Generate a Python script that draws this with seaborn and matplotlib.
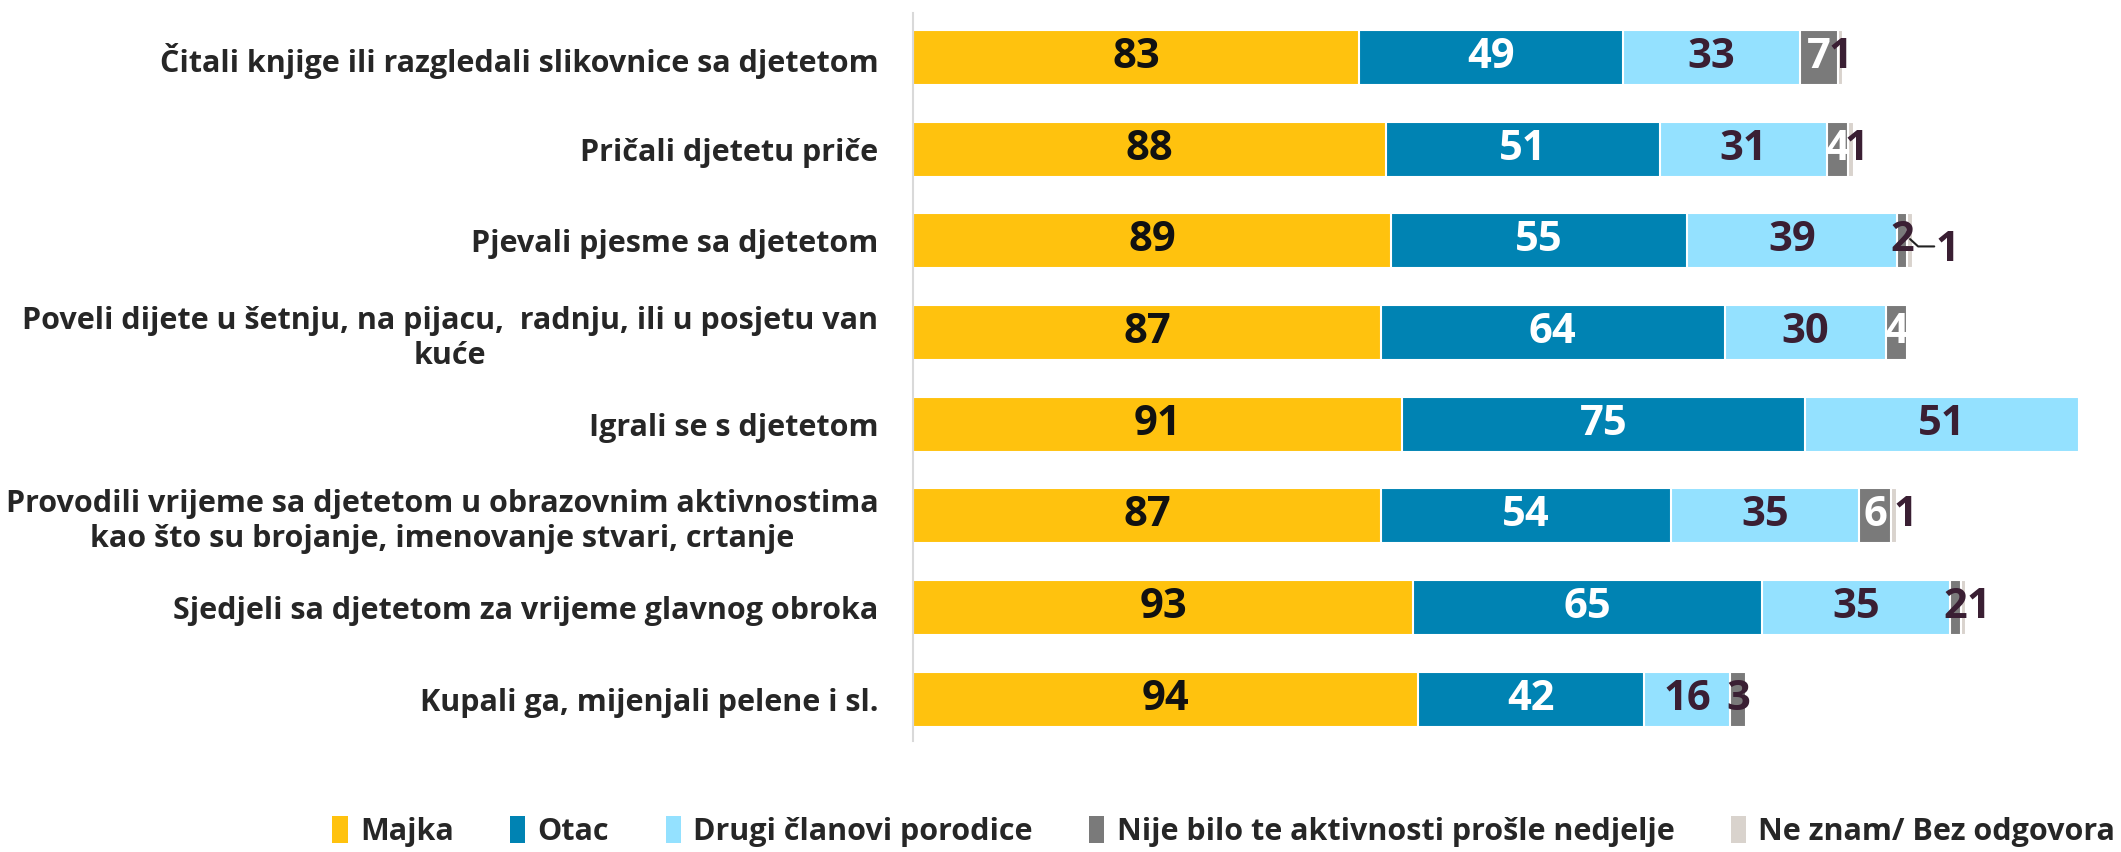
import numpy as np
import pandas as pd
import matplotlib
matplotlib.use("Agg")
import matplotlib.pyplot as plt
import seaborn as sns
from matplotlib.patches import Patch

activities = [
    "Čitali knjige ili razgledali slikovnice sa djetetom",
    "Pričali djetetu priče",
    "Pjevali pjesme sa djetetom",
    "Poveli dijete u šetnju, na pijacu,  radnju, ili u posjetu van\nkuće",
    "Igrali se s djetetom",
    "Provodili vrijeme sa djetetom u obrazovnim aktivnostima\nkao što su brojanje, imenovanje stvari, crtanje",
    "Sjedjeli sa djetetom za vrijeme glavnog obroka",
    "Kupali ga, mijenjali pelene i sl.",
]
series_names = ["Majka", "Otac", "Drugi članovi porodice",
                "Nije bilo te aktivnosti prošle nedjelje", "Ne znam/ Bez odgovora"]
majka = [83, 88, 89, 87, 91, 87, 93, 94]
otac = [49, 51, 55, 64, 75, 54, 65, 42]
drugi = [33, 31, 39, 30, 51, 35, 35, 16]
nije = [7, 4, 2, 4, 0, 6, 2, 3]
ne_znam = [1, 1, 1, 0, 0, 1, 1, 0]

colors = ["#FFC20E", "#0083B3", "#94E1FF", "#7A7A7A", "#D9D3CD"]
text_colors = ["#111111", "#FFFFFF", "#3A1F33", "#FFFFFF", "#3A1F33"]
DARK = "#3A1F33"

sns.set_theme(style="white")
plt.rcParams["font.family"] = ["Open Sans", "DejaVu Sans"]

values = np.array([majka, otac, drugi, nije, ne_znam], dtype=float)
cum = np.cumsum(values, axis=0)

fig = plt.figure(figsize=(21.21, 8.52), dpi=100)
ax = fig.add_axes([0.4305, 0.130, 0.560, 0.855])

# stacked bars: draw cumulative totals from the outermost segment inward
for i in range(len(series_names) - 1, -1, -1):
    df = pd.DataFrame({"activity": activities, "value": cum[i]})
    sns.barplot(data=df, x="value", y="activity", orient="h", color=colors[i],
                width=0.6, edgecolor="white", linewidth=1.5, ax=ax,
                saturation=1)

ax.set_xlim(0, 221)
ax.set_ylim(7.46, -0.49)
ax.set_xlabel("")
ax.set_ylabel("")
ax.set_xticks([])
for s in ["top", "right", "bottom"]:
    ax.spines[s].set_visible(False)
ax.spines["left"].set_color("#D9D9D9")
ax.spines["left"].set_linewidth(1.5)
ax.tick_params(axis="y", length=0, pad=25)
for lab in ax.get_yticklabels():
    lab.set_fontsize(22)
    lab.set_fontweight("bold")
    lab.set_color("#262626")
    lab.set_horizontalalignment("right")
    lab.set_multialignment("center")

label_fs = 30
# extra horizontal nudge for the small "Ne znam" labels
nudge = {0: 0.0, 1: 1.0, 5: 2.2, 6: 2.8}
for r in range(len(activities)):
    for i in range(len(series_names)):
        v = values[i, r]
        if v <= 0:
            continue
        center = cum[i, r] - v / 2
        col = text_colors[i]
        x, y = center, r
        if i == 3 and v < 4:
            col = DARK
        if i == 4:
            x = center + nudge.get(r, 1.2)
            if r == 2:
                x = center + 7
                y = r + 0.1
                ax.plot([center, center + 1.5, center + 4.5],
                        [r - 0.02, r + 0.06, r + 0.06],
                        color="#222222", lw=1.5, zorder=4)
        ax.text(x, y, f"{int(v)}", ha="center", va="center", fontsize=label_fs,
                fontweight="bold", color=col, zorder=5)

handles = [Patch(facecolor=c, edgecolor="none") for c in colors]
fig.legend(handles, series_names, loc="center", bbox_to_anchor=(0.577, 0.024),
           ncol=5, frameon=False, handlelength=0.5, handleheight=1.0,
           handletextpad=0.4, columnspacing=1.85,
           prop={"size": 22, "weight": "bold"}, labelcolor="#262626")

fig.savefig("out.png", dpi=100, facecolor="white")
